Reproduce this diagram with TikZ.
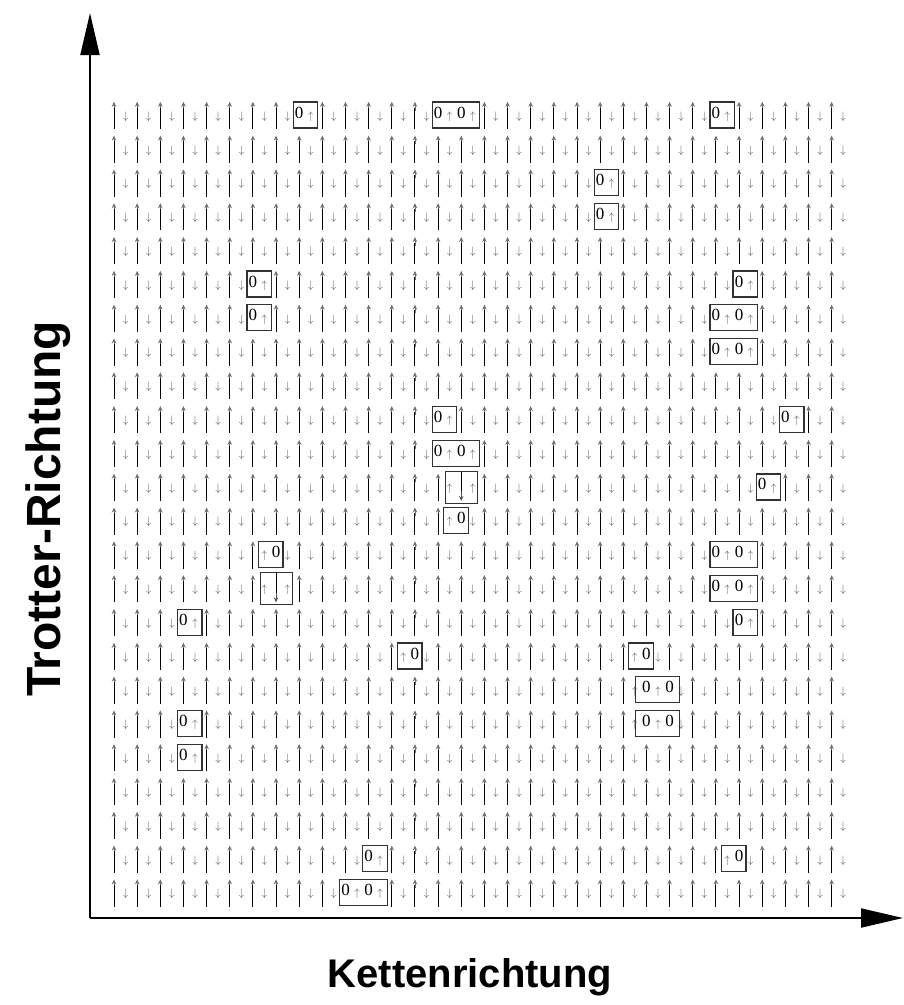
\documentclass[tikz,border=0pt]{standalone}
\usepackage{fontspec}
\setmainfont{Liberation Serif}
\newfontfamily\axisfont{Liberation Sans}
\usepackage{xcolor}
\usepackage{tikz}
\usetikzlibrary{arrows.meta}
\definecolor{SpinGrey}{RGB}{85,85,85}
\definecolor{HeadGrey}{RGB}{110,110,110}
\definecolor{FrameGrey}{RGB}{50,50,50}

\tikzset{
  spinarrow/.style={font=\fontsize{11}{11}\selectfont, text=SpinGrey, inner sep=0pt},
  holezero/.style={font=\fontsize{17}{17}\selectfont, inner sep=0pt},
  sitehead/.style={HeadGrey, line width=0.9pt, -{Stealth[length=5pt,width=4.5pt]}},
  siteline/.style={black, line width=1pt},
  downhead/.style={SpinGrey, line width=0.9pt, -{Stealth[length=5pt,width=4.5pt]}},
  cellframe/.style={draw=FrameGrey, line width=1.2pt},
  axisline/.style={line width=2pt, -{Triangle[length=42pt,width=19pt]}},
  axislabel/.style={font=\axisfont\bfseries\fontsize{40}{40}\selectfont, inner sep=0pt}
}

\begin{document}
\begin{tikzpicture}[x=1pt, y=-1pt]
    \useasboundingbox (0,0) rectangle (904,1005);

    % Axes
    \coordinate (origin) at (90,918);
    \coordinate (ytip) at (90,13);
    \coordinate (xtip) at (903,918);
    \draw[axisline] (origin) -- (ytip);
    \draw[axisline] (origin) -- (xtip);
    \node[axislabel] (xlabel) at (470,977) {Kettenrichtung};
    \node[axislabel, font=\axisfont\bfseries\fontsize{48}{48}\selectfont, rotate=90] (ylabel) at (48,509) {Trotter-Richtung};

    % Sites that differ from the Neel pattern
    \foreach \r/\c in {1/8,1/14,1/15,1/26,3/21,4/21,6/6,6/27,7/6,7/26,7/27,8/26,8/27,
        10/14,10/29,11/14,11/15,12/15,12/28,13/15,14/7,14/26,14/27,15/7,15/26,15/27,
        16/3,16/27,17/13,17/23,18/23,18/24,19/3,19/23,19/24,20/3,23/11,23/27,24/10,24/11}
      {\expandafter\gdef\csname noA-\r-\c\endcsname{}}
    \foreach \r/\c in {1/8,1/14,1/15,1/26,3/21,4/21,6/6,6/27,7/6,7/26,7/27,8/26,8/27,
        10/14,10/29,11/14,11/15,12/14,12/15,12/28,13/14,14/6,14/26,14/27,15/6,15/7,15/26,15/27,
        16/3,16/27,17/12,17/22,18/22,18/23,19/3,19/22,19/23,20/3,23/11,23/26,24/10,24/11}
      {\expandafter\gdef\csname noB-\r-\c\endcsname{}}

    % Neel background: up spins with lines, down spins in between
    \foreach \r in {1,...,24}{
      \pgfmathsetmacro{\rowy}{101.5+33.81*(\r-1)}
      \foreach \c in {0,...,31}{
        \pgfmathsetmacro{\xa}{114+23.15*\c}
        \pgfmathsetmacro{\xb}{\xa+11.58}
        \ifcsname noA-\r-\c\endcsname\else
          \draw[sitehead] (\xa,\rowy+9) -- (\xa,\rowy+0.3);
          \draw[siteline] (\xa,\rowy+6) -- (\xa,\rowy+27.5);
        \fi
        \ifcsname noB-\r-\c\endcsname\else
          \node[spinarrow] (d-\r-\c) at (\xb,\rowy+15) {$\downarrow$};
        \fi
      }
    }

    % Holes
    \foreach \r/\c in {1/8,1/14,1/15,1/26,3/21,4/21,6/6,6/27,7/6,7/26,7/27,8/26,8/27,
        10/14,10/29,11/14,11/15,12/28,13/15,14/7,14/26,14/27,15/26,15/27,
        16/3,16/27,17/13,17/23,18/23,18/24,19/3,19/23,19/24,20/3,23/11,23/27,24/10,24/11}{
      \pgfmathsetmacro{\rowy}{101.5+33.81*(\r-1)}
      \pgfmathsetmacro{\xa}{114+23.15*\c}
      \node[holezero] (h-\r-\c) at (\xa,\rowy+11) {0};
    }

    % Flipped spins
    \foreach \r/\c in {1/8,1/14,1/15,1/26,3/21,4/21,6/6,6/27,7/6,7/26,7/27,8/26,8/27,
        10/14,10/29,11/14,11/15,12/14,12/15,12/28,13/14,14/6,14/26,14/27,15/6,15/7,15/26,15/27,
        16/3,16/27,17/12,17/22,18/22,18/23,19/3,19/22,19/23,20/3,23/11,23/26,24/10,24/11}{
      \pgfmathsetmacro{\rowy}{101.5+33.81*(\r-1)}
      \pgfmathsetmacro{\xb}{114+23.15*\c+11.58}
      \node[spinarrow] (u-\r-\c) at (\xb,\rowy+15) {$\uparrow$};
    }
    \foreach \r/\c in {12/15,15/7}{
      \pgfmathsetmacro{\rowy}{101.5+33.81*(\r-1)}
      \pgfmathsetmacro{\xa}{114+23.15*\c}
      \draw[siteline] (\xa,\rowy-1.5) -- (\xa,\rowy+22);
      \draw[downhead] (\xa,\rowy+18) -- (\xa,\rowy+27.5);
    }

    % Frames round the defects
    \foreach \r/\pa/\pb in {1/8/8.5,1/14/15.5,1/26/26.5,3/21/21.5,4/21/21.5,6/6/6.5,6/27/27.5,
        7/6/6.5,7/26/27.5,8/26/27.5,10/14/14.5,10/29/29.5,11/14/15.5,12/28/28.5,13/14.5/15,
        14/6.5/7,14/26/27.5,15/26/27.5,16/3/3.5,16/27/27.5,17/12.5/13,17/22.5/23,
        18/22.78/24.13,19/3/3.5,19/22.78/24.13,20/3/3.5,23/11/11.5,23/26.5/27,24/10/11.5}{
      \pgfmathsetmacro{\rowy}{101.5+33.81*(\r-1)}
      \pgfmathsetmacro{\xl}{114+23.15*\pa-6}
      \pgfmathsetmacro{\xr}{114+23.15*\pb+7}
      \draw[cellframe] (\xl,\rowy+0.5) rectangle (\xr,\rowy+26.5);
    }
    \foreach \r/\pa/\pb in {12/14.5/15.5,15/6.5/7.5}{
      \pgfmathsetmacro{\rowy}{101.5+33.81*(\r-1)}
      \pgfmathsetmacro{\xl}{114+23.15*\pa-4}
      \pgfmathsetmacro{\xr}{114+23.15*\pb+5}
      \draw[cellframe] (\xl,\rowy-2) rectangle (\xr,\rowy+30);
    }
\end{tikzpicture}
\end{document}
